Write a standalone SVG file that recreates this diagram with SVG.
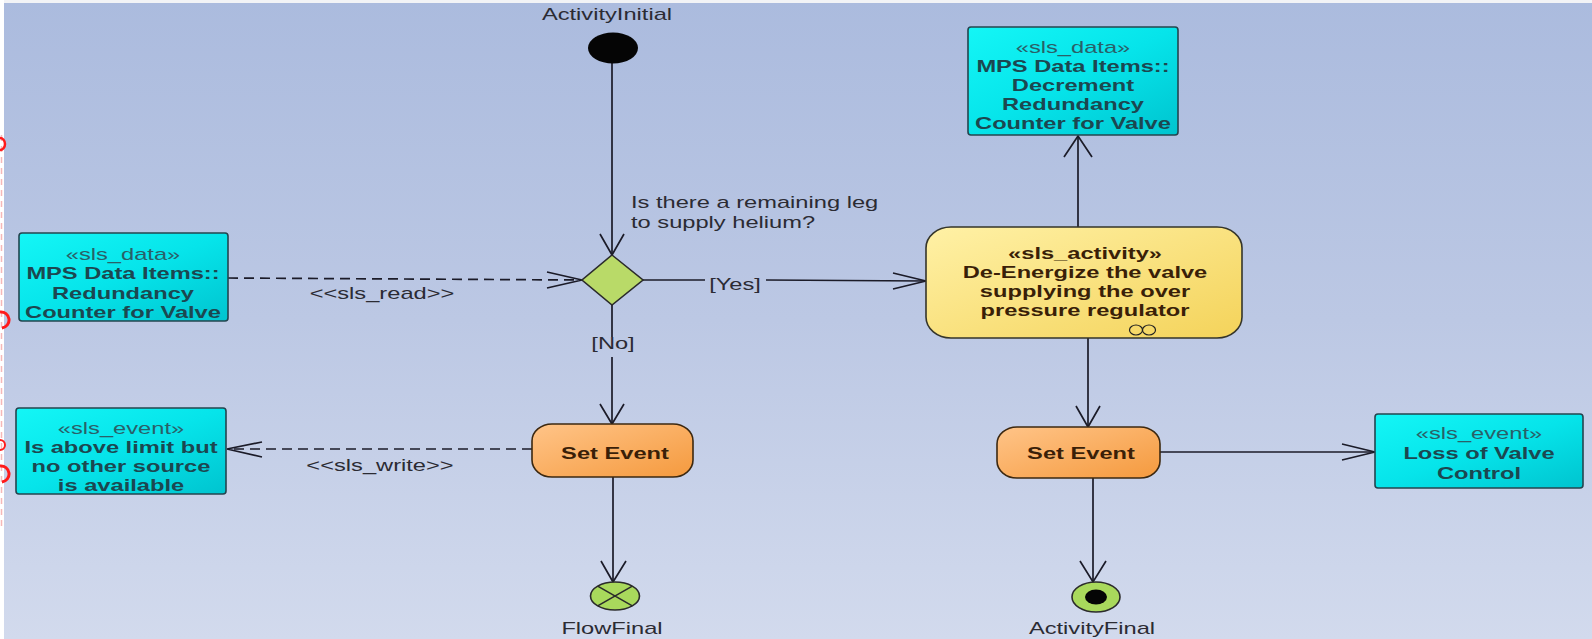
<svg xmlns="http://www.w3.org/2000/svg" width="1592" height="639" viewBox="0 0 1592 639">
<defs>
<linearGradient id="bg" x1="0" y1="0" x2="0" y2="1">
<stop offset="0" stop-color="#abbbde"/>
<stop offset="0.5" stop-color="#bcc8e4"/>
<stop offset="1" stop-color="#d2daed"/>
</linearGradient>
<linearGradient id="cyan" x1="0" y1="0" x2="1" y2="1">
<stop offset="0" stop-color="#14f6f6"/>
<stop offset="0.5" stop-color="#06e4ea"/>
<stop offset="1" stop-color="#00c4cf"/>
</linearGradient>
<linearGradient id="orange" x1="0" y1="0" x2="1" y2="1">
<stop offset="0" stop-color="#ffc488"/>
<stop offset="1" stop-color="#f59a3e"/>
</linearGradient>
<linearGradient id="yellow" x1="0" y1="0" x2="1" y2="1">
<stop offset="0" stop-color="#fff1a6"/>
<stop offset="1" stop-color="#f4d35a"/>
</linearGradient>
</defs>
<style>
.t{font-family:"Liberation Sans",Arial,sans-serif;font-size:16px;}
.b{font-weight:bold;}
.lbl{fill:#2b2b33;}
.cy{fill:#1c4750;}
.cys{fill:#2a6068;}
.br{fill:#3a1f08;}
.box{fill:url(#cyan);stroke:#24454f;stroke-width:1.6;}
.act{fill:url(#orange);stroke:#3c2810;stroke-width:1.6;}
.ln{fill:none;stroke:#1b1b28;stroke-width:1.7;}
.dash{stroke-dasharray:10 6;}
.fin{fill:#a9d95c;stroke:#2b2b2b;stroke-width:1.6;}
</style>
<rect width="1592" height="639" fill="url(#bg)"/>
<rect x="0" y="0" width="1592" height="3" fill="#f2f3f6"/>
<rect x="0" y="0" width="4" height="639" fill="#ffffff"/>
<g id="margin-marks" fill="none" stroke="#ff1a1a">
<line x1="1.5" y1="135" x2="1.5" y2="530" stroke="#f6b8b8" stroke-width="1.5" stroke-dasharray="6 5"/>
<path d="M0,138 A5,6 0 0 1 0,150" stroke-width="2.5"/>
<path d="M0,312 A8,8 0 0 1 2,328" stroke-width="3"/>
<path d="M0,440 A4,4 0 0 1 0,450" stroke-width="2"/>
<path d="M0,466 A8,8 0 0 1 2,482" stroke-width="3"/>
</g>

<g id="connectors">
<line class="ln" x1="612" y1="63" x2="612" y2="255"/>
<path class="ln" d="M600,234 L612,255 L624,234"/>
<line class="ln dash" x1="228" y1="278" x2="580" y2="280"/>
<path class="ln" d="M547,272 L582,280 L547,288"/>
<line class="ln" x1="643" y1="280" x2="705" y2="280"/>
<line class="ln" x1="766" y1="280" x2="925" y2="281"/>
<path class="ln" d="M893,273 L926,281 L893,289"/>
<text class="t lbl" text-anchor="middle" transform="translate(735,290) scale(1.48,1)">[Yes]</text>
<line class="ln" x1="612" y1="305" x2="612" y2="337"/>
<line class="ln" x1="612" y1="357" x2="612" y2="424"/>
<path class="ln" d="M600,404 L612,424 L624,404"/>
<text class="t lbl" text-anchor="middle" transform="translate(613,349) scale(1.48,1)">[No]</text>
<line class="ln dash" x1="532" y1="449" x2="228" y2="449"/>
<path class="ln" d="M262,442 L227,449 L262,457"/>
<line class="ln" x1="613" y1="477" x2="613" y2="582"/>
<path class="ln" d="M601,561 L613,582 L626,561"/>
<line class="ln" x1="1078" y1="227" x2="1078" y2="136"/>
<path class="ln" d="M1064,157 L1078,136 L1092,157"/>
<line class="ln" x1="1088" y1="338" x2="1088" y2="427"/>
<path class="ln" d="M1076,406 L1088,427 L1100,406"/>
<line class="ln" x1="1160" y1="452" x2="1374" y2="452"/>
<path class="ln" d="M1342,444 L1375,452 L1342,460"/>
<line class="ln" x1="1093" y1="478" x2="1093" y2="582"/>
<path class="ln" d="M1080,561 L1093,582 L1106,561"/>
<text class="t lbl" text-anchor="middle" transform="translate(382,299) scale(1.48,1)">&lt;&lt;sls_read&gt;&gt;</text>
<text class="t lbl" text-anchor="middle" transform="translate(380,471) scale(1.48,1)">&lt;&lt;sls_write&gt;&gt;</text>
</g>

<g id="initial">
<ellipse cx="613" cy="48" rx="25" ry="15.5" fill="#050505"/>
<text class="t lbl" text-anchor="middle" transform="translate(607,20) scale(1.48,1)">ActivityInitial</text>
</g>

<g id="decision">
<polygon points="612,255 643,280 612,305 582,280" fill="#b9da68" stroke="#2b2b2b" stroke-width="1.6"/>
<text class="t lbl" transform="translate(631,208) scale(1.48,1)">Is there a remaining leg</text>
<text class="t lbl" transform="translate(631,228) scale(1.48,1)">to supply helium?</text>
</g>

<g id="data-redundancy">
<rect class="box" x="19" y="233" width="209" height="88" rx="3"/>
<g text-anchor="middle">
<text class="t cys" transform="translate(123,260) scale(1.48,1)">«sls_data»</text>
<text class="t b cy" transform="translate(123,279) scale(1.48,1)">MPS Data Items::</text>
<text class="t b cy" transform="translate(123,299) scale(1.48,1)">Redundancy</text>
<text class="t b cy" transform="translate(123,318) scale(1.48,1)">Counter for Valve</text>
</g>
</g>

<g id="event-above-limit">
<rect class="box" x="16" y="408" width="210" height="86" rx="3"/>
<g text-anchor="middle">
<text class="t cys" transform="translate(121,434) scale(1.48,1)">«sls_event»</text>
<text class="t b cy" transform="translate(121,453) scale(1.48,1)">Is above limit but</text>
<text class="t b cy" transform="translate(121,472) scale(1.48,1)">no other source</text>
<text class="t b cy" transform="translate(121,491) scale(1.48,1)">is available</text>
</g>
</g>

<g id="set-event-1">
<rect class="act" x="532" y="424" width="161" height="53" rx="20" ry="17"/>
<text class="t b br" text-anchor="middle" transform="translate(615,459) scale(1.48,1)">Set Event</text>
</g>

<g id="flow-final">
<ellipse class="fin" cx="615" cy="596" rx="24.5" ry="14"/>
<path d="M597.7,586.1 L632.3,605.9 M597.7,605.9 L632.3,586.1" stroke="#2b2b2b" stroke-width="1.6"/>
<text class="t lbl" text-anchor="middle" transform="translate(612,634) scale(1.48,1)">FlowFinal</text>
</g>

<g id="data-decrement">
<rect class="box" x="968" y="27" width="210" height="108" rx="3"/>
<g text-anchor="middle">
<text class="t cys" transform="translate(1073,53) scale(1.48,1)">«sls_data»</text>
<text class="t b cy" transform="translate(1073,72) scale(1.48,1)">MPS Data Items::</text>
<text class="t b cy" transform="translate(1073,91) scale(1.48,1)">Decrement</text>
<text class="t b cy" transform="translate(1073,110) scale(1.48,1)">Redundancy</text>
<text class="t b cy" transform="translate(1073,129) scale(1.48,1)">Counter for Valve</text>
</g>
</g>

<g id="activity-deenergize">
<rect x="926" y="227" width="316" height="111" rx="25" ry="21" fill="url(#yellow)" stroke="#35352a" stroke-width="1.6"/>
<g text-anchor="middle">
<text class="t b br" transform="translate(1085,259) scale(1.48,1)">«sls_activity»</text>
<text class="t b br" transform="translate(1085,278) scale(1.48,1)">De-Energize the valve</text>
<text class="t b br" transform="translate(1085,297) scale(1.48,1)">supplying the over</text>
<text class="t b br" transform="translate(1085,316) scale(1.48,1)">pressure regulator</text>
</g>
<ellipse cx="1136" cy="330" rx="6.5" ry="5" fill="none" stroke="#222" stroke-width="1.2"/>
<ellipse cx="1149" cy="330" rx="6.5" ry="5" fill="none" stroke="#222" stroke-width="1.2"/>
</g>

<g id="set-event-2">
<rect class="act" x="997" y="427" width="163" height="51" rx="20" ry="17"/>
<text class="t b br" text-anchor="middle" transform="translate(1081,459) scale(1.48,1)">Set Event</text>
</g>

<g id="event-loss">
<rect class="box" x="1375" y="414" width="208" height="74" rx="3"/>
<g text-anchor="middle">
<text class="t cys" transform="translate(1479,439) scale(1.48,1)">«sls_event»</text>
<text class="t b cy" transform="translate(1479,459) scale(1.48,1)">Loss of Valve</text>
<text class="t b cy" transform="translate(1479,479) scale(1.48,1)">Control</text>
</g>
</g>

<g id="activity-final">
<ellipse class="fin" cx="1096" cy="597" rx="24" ry="15"/>
<ellipse cx="1096" cy="597" rx="11" ry="7.5" fill="#050505"/>
<text class="t lbl" text-anchor="middle" transform="translate(1092,634) scale(1.48,1)">ActivityFinal</text>
</g>
</svg>
